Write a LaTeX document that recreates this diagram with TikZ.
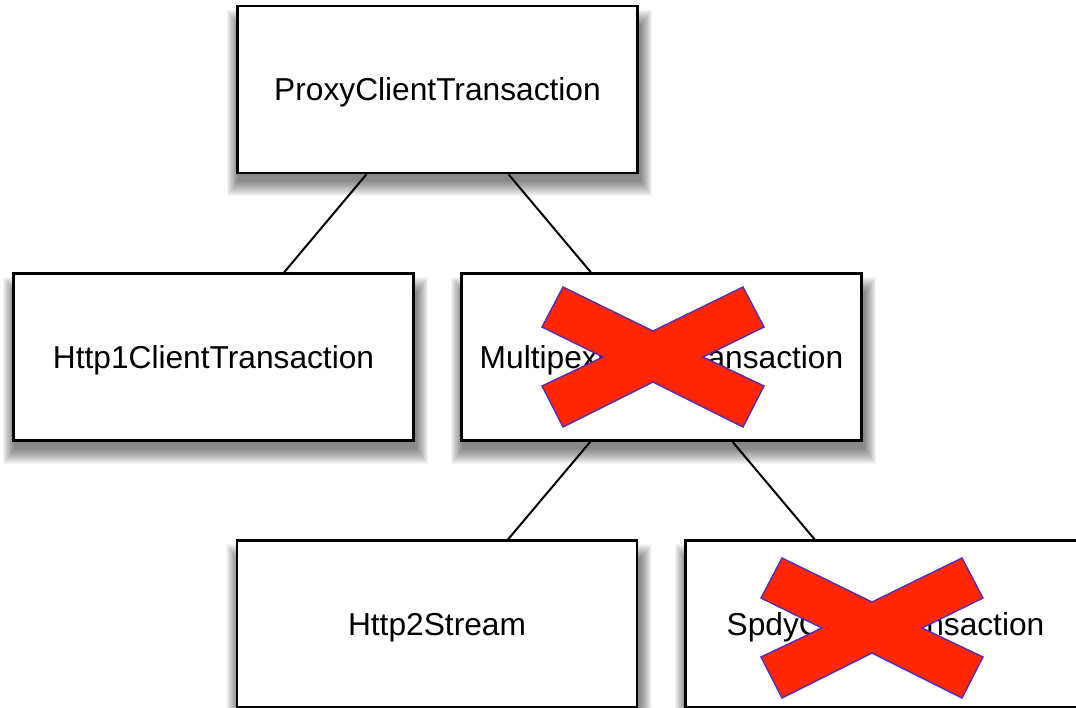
\documentclass[tikz,border=0pt]{standalone}
\usepackage{fontspec}
\setmainfont{Liberation Sans}
\usetikzlibrary{backgrounds,calc}
\definecolor{xred}{RGB}{255,38,0}
\definecolor{xedge}{RGB}{85,45,175}
\tikzset{
  box/.style={draw=black, line width=2.6pt, fill=white,
    minimum width=400pt, minimum height=167pt, inner sep=0pt,
    text height=22.7pt, text depth=0pt,
    font=\fontsize{31.7}{38}\selectfont},
  link/.style={draw=black, line width=2pt},
  pics/strike/.style={code={
    \filldraw[fill=xred, draw=xedge, line width=1.4pt, line join=miter]
      (-90,-70) -- (0,-26) -- (90,-70) -- (111,-30) -- (50,0) -- (111,29)
      -- (90,70) -- (0,25) -- (-90,70) -- (-111,29) -- (-50,0) -- (-111,-30)
      -- cycle;
  }},
}
\begin{document}
\begin{tikzpicture}[x=1pt,y=-1pt]
  \useasboundingbox (0,0) rectangle (1076,707);

  % class boxes
  \node[box] (proxy) at (437.5,89.5) {ProxyClientTransaction};
  \node[box] (http1) at (213.5,357) {Http1ClientTransaction};
  \node[box] (multi) at (661.5,357) {MultipexClientTransaction};
  \node[box] (http2) at (437,624) {Http2Stream};
  \node[box] (spdy)  at (885.5,624) {SpdyClientTransaction};

  % page, soft drop shadows and connectors behind the boxes
  \begin{scope}[on background layer]
    \fill[white] (0,0) rectangle (1076,707);
    \foreach \n in {proxy,http1,multi,http2,spdy}{
      \foreach \k in {0,...,15}{
        \fill[black, opacity=0.035]
          ($(\n.south west)+(2-0.75*\k,7+\k)$) rectangle ($(\n.north east)+(2+0.75*\k,20-\k)$);
      }
    }
    \draw[link] (proxy) -- (http1);
    \draw[link] (proxy) -- (multi);
    \draw[link] (multi) -- (http2);
    \draw[link] (multi) -- (spdy);
  \end{scope}

  % crossed-out classes
  \pic at (653,357) {strike};
  \pic at (872,628) {strike};
\end{tikzpicture}
\end{document}
